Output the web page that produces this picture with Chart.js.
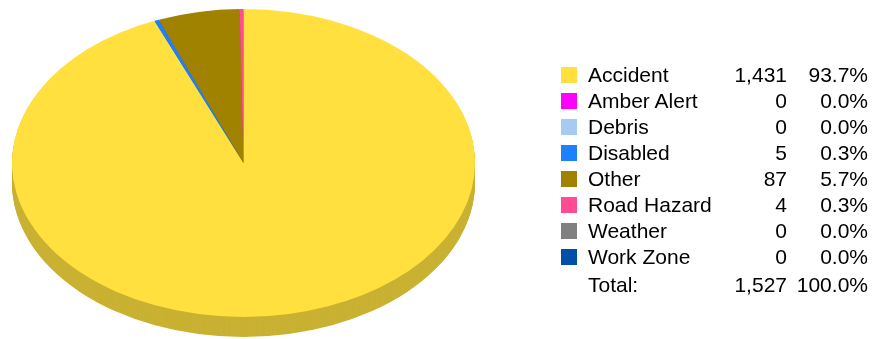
<!DOCTYPE html>
<html>
<head>
<meta charset="utf-8">
<title>Incidents by Type</title>
<script src="https://cdn.jsdelivr.net/npm/chart.js@4.4.1/dist/chart.umd.min.js"></script>
<style>
  html, body { margin: 0; padding: 0; background: #fff; overflow: hidden; }
  #wrap { position: relative; width: 877px; height: 339px; }
  #pieChart { position: absolute; left: 0; top: 0; }
  #legend {
    position: absolute; left: 0; top: 0; width: 877px; height: 339px;
    font-family: "Liberation Sans", Arial, sans-serif; font-size: 21px; color: #000;
  }
  .row { position: absolute; left: 0; width: 877px; height: 26px; line-height: 26px; white-space: nowrap; }
  .swatch { position: absolute; left: 561px; top: 5px; width: 16px; height: 16px; }
  .name { position: absolute; left: 588px; }
  .count { position: absolute; right: 90px; }
  .pct { position: absolute; right: 9px; }
</style>
</head>
<body>
<div id="wrap">
  <canvas id="pieChart" width="487" height="339"></canvas>
  <div id="legend"></div>
</div>
<script>
const categories = ["Accident", "Amber Alert", "Debris", "Disabled", "Other", "Road Hazard", "Weather", "Work Zone"];
const counts = [1431, 0, 0, 5, 87, 4, 0, 0];
const colors = ["#ffe03f", "#ff00ff", "#a6caf0", "#1e80ff", "#a08200", "#ff4c94", "#808080", "#0050a8"];

const pieRadius = 231.5;
const tilt = 154 / 231.5;
const pieDepth = 20;

function shade(hex, f) {
  const n = parseInt(hex.slice(1), 16);
  const r = Math.round(((n >> 16) & 255) * f);
  const g = Math.round(((n >> 8) & 255) * f);
  const b = Math.round((n & 255) * f);
  return `rgb(${r},${g},${b})`;
}

const sideColors = colors.map((c) => shade(c, 0.79));

// squashes the pie into an ellipse and paints the rim underneath it
const tiltedPie = {
  id: "tiltedPie",
  beforeDatasetsDraw(chart) {
    const ctx = chart.ctx;
    const arcs = chart.getDatasetMeta(0).data;
    const { x, y } = arcs[0].getProps(["x", "y"]);

    for (let d = pieDepth; d > 0; d--) {
      arcs.forEach((arc, i) => {
        const { startAngle, endAngle, outerRadius } = arc.getProps(["startAngle", "endAngle", "outerRadius"]);
        if (endAngle - startAngle <= 0) return;
        ctx.save();
        ctx.translate(x, y + d);
        ctx.scale(1, tilt);
        ctx.beginPath();
        ctx.moveTo(0, 0);
        ctx.arc(0, 0, outerRadius, startAngle, endAngle);
        ctx.closePath();
        ctx.fillStyle = sideColors[i];
        ctx.fill();
        ctx.restore();
      });
    }

    ctx.save();
    ctx.translate(x, y);
    ctx.scale(1, tilt);
    ctx.translate(-x, -y);
  },
  afterDatasetsDraw(chart) {
    chart.ctx.restore();
  },
};

function drawPie() {
  const ctx = document.getElementById("pieChart");
  return new Chart(ctx, {
    type: "pie",
    data: {
      labels: categories,
      datasets: [
        {
          data: counts,
          backgroundColor: colors,
          borderWidth: 0,
          radius: pieRadius,
        },
      ],
    },
    options: {
      responsive: false,
      devicePixelRatio: 1,
      animation: false,
      events: [],
      layout: { padding: { bottom: 13 } },
      plugins: {
        legend: { display: false },
        tooltip: { enabled: false },
      },
    },
    plugins: [tiltedPie],
  });
}

function fmt(n) {
  return n.toLocaleString("en-US");
}

function addRow(legend, top, cells) {
  const row = document.createElement("div");
  row.className = "row";
  row.style.top = top + "px";
  row.innerHTML = cells;
  legend.appendChild(row);
}

function drawLegend() {
  const legend = document.getElementById("legend");
  const total = counts.reduce((sum, n) => sum + n, 0);

  categories.forEach((name, i) => {
    const pct = ((counts[i] / total) * 100).toFixed(1) + "%";
    addRow(
      legend,
      62 + i * 26,
      `<span class="swatch" style="background:${colors[i]}"></span>` +
        `<span class="name">${name}</span>` +
        `<span class="count">${fmt(counts[i])}</span>` +
        `<span class="pct">${pct}</span>`
    );
  });

  addRow(
    legend,
    272,
    `<span class="name">Total:</span>` +
      `<span class="count">${fmt(total)}</span>` +
      `<span class="pct">100.0%</span>`
  );
}

drawPie();
drawLegend();
</script>
</body>
</html>
